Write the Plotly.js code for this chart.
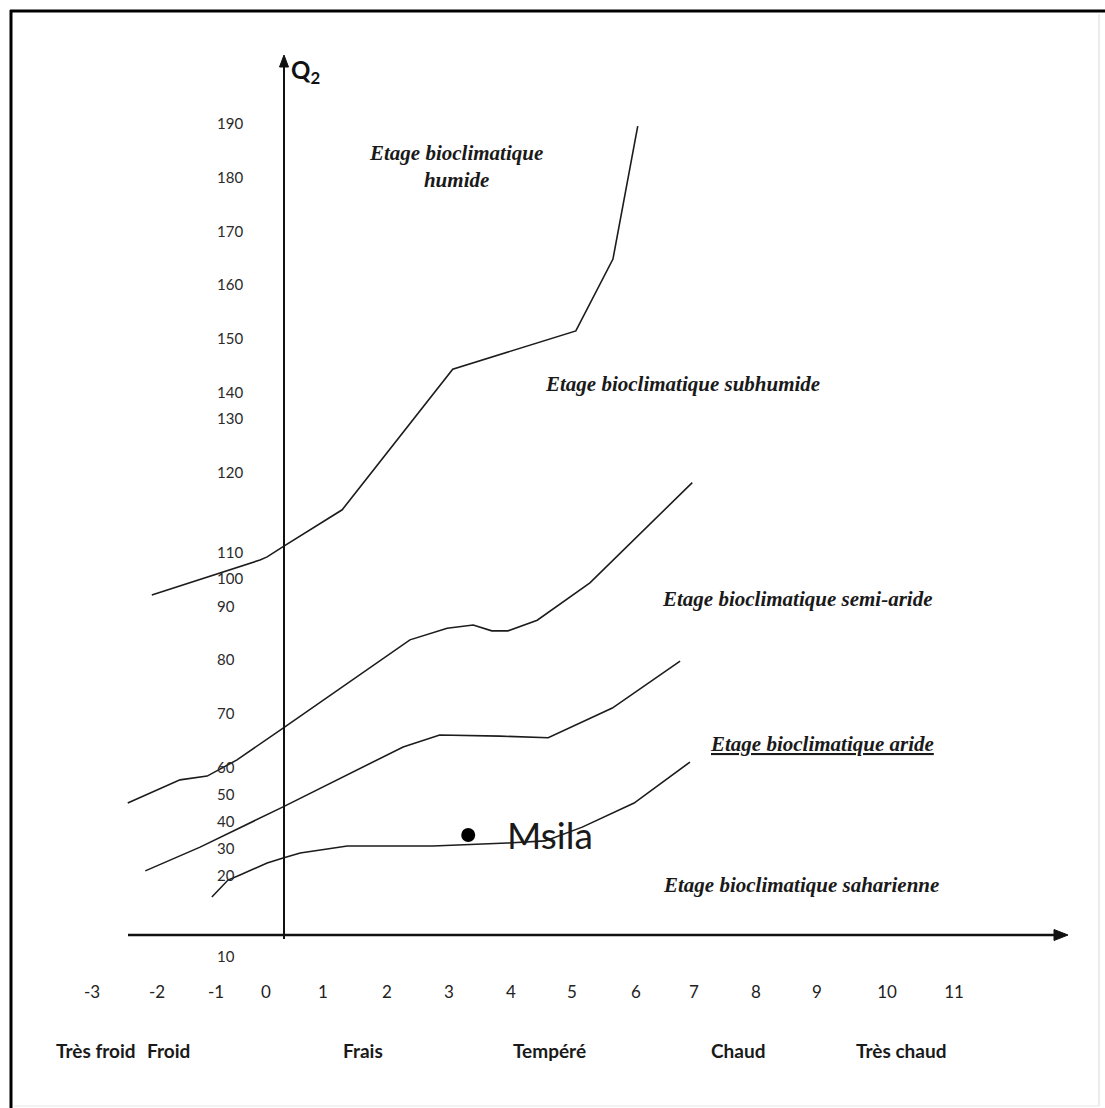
<!DOCTYPE html>
<html>
<head>
<meta charset="utf-8">
<script src="https://cdn.plot.ly/plotly-3.0.1.min.js"></script>
<style>
html,body{margin:0;padding:0;background:#fff;}
#chart{width:1105px;height:1108px;}
</style>
</head>
<body>
<div id="chart"></div>
<script>
// ---------- DATA ----------
// x: m (°C, mean minimum of the coldest month), y: Q2 (Emberger quotient)
const xTickValues = [-3, -2, -1, 0, 1, 2, 3, 4, 5, 6, 7, 8, 9, 10, 11];
const yTickValues = [190, 180, 170, 160, 150, 140, 130, 120, 110, 100, 90, 80, 70, 60, 50, 40, 30, 20, 10];
const thermalClasses = ['Très froid', 'Froid', 'Frais', 'Tempéré', 'Chaud', 'Très chaud'];
const stageLabels = [
  'Etage bioclimatique<br>humide',
  'Etage bioclimatique subhumide',
  'Etage bioclimatique semi-aride',
  'Etage bioclimatique aride',
  'Etage bioclimatique saharienne'
];

// Boundary humide / subhumide
const humideM  = [-2.08, -0.12, 0.02, 0.30, 1.30, 3.06, 5.06, 5.64, 6.03];
const humideQ2 = [94.3, 107.3, 108.5, 110.8, 115.4, 144.4, 151.5, 164.9, 189.6];
// Boundary subhumide / semi-aride
const subhumideM  = [-2.45, -1.61, -1.15, -0.58, 0.30, 2.37, 2.97, 3.39, 3.69, 3.95, 4.43, 5.28, 6.97];
const subhumideQ2 = [47.0, 55.6, 57.0, 61.5, 67.4, 83.8, 86.0, 86.6, 85.5, 85.5, 87.5, 98.6, 118.8];
// Boundary semi-aride / aride
const semiArideM  = [-2.18, -1.27, 0.30, 2.26, 2.85, 3.82, 4.61, 5.63, 6.76];
const semiArideQ2 = [21.9, 30.7, 45.6, 63.9, 66.1, 65.9, 65.6, 71.1, 79.8];
// Boundary aride / saharien
const arideM  = [-1.07, -0.76, -0.52, 0.02, 0.30, 0.60, 1.38, 2.74, 3.94, 4.56, 5.16, 5.97, 6.93];
const arideQ2 = [17.4, 19.5, 20.4, 24.8, 26.7, 28.5, 31.1, 31.1, 32.2, 33.0, 38.1, 47.0, 61.1];
// Station
const stationName = ['Msila'];
const stationM  = [3.31];
const stationQ2 = [35.2];

// ---------- SCALES (the printed graduations are unevenly spaced) ----------
const W = 1105, H = 1108;
const xTickPos = [92, 157, 216, 266, 323, 387, 449, 511, 572, 636, 694, 756, 817, 887, 954];
const yTickPos = [124, 178, 232, 285, 339, 393, 419, 473, 553, 579, 607, 660, 714, 768, 795, 822, 849, 876, 957];

function piecewise(v, vals, pos) {
  const pts = vals.map((d, i) => [d, pos[i]]).sort((a, b) => a[0] - b[0]);
  let i = 0;
  if (v >= pts[pts.length - 1][0]) i = pts.length - 2;
  else if (v > pts[0][0]) { while (!(v >= pts[i][0] && v <= pts[i + 1][0])) i++; }
  const [a0, p0] = pts[i], [a1, p1] = pts[i + 1];
  return p0 + (v - a0) * (p1 - p0) / (a1 - a0);
}
const toX = m => piecewise(m, xTickValues, xTickPos);
const toY = q => piecewise(q, yTickValues, yTickPos);

// ---------- TRACES ----------
const lineStyle = {color: '#1c1c1c', width: 1.6};
function boundary(ms, qs, name) {
  return {type: 'scatter', mode: 'lines', name: name,
          x: ms.map(toX), y: qs.map(toY), line: lineStyle, hoverinfo: 'skip'};
}
const traces = [
  boundary(humideM, humideQ2, 'humide/subhumide'),
  boundary(subhumideM, subhumideQ2, 'subhumide/semi-aride'),
  boundary(semiArideM, semiArideQ2, 'semi-aride/aride'),
  boundary(arideM, arideQ2, 'aride/saharien'),
  {type: 'scatter', mode: 'markers', name: stationName[0],
   x: stationM.map(toX), y: stationQ2.map(toY),
   marker: {color: '#000', size: 14}, hoverinfo: 'skip'}
];

// ---------- ANNOTATIONS ----------
const serif = {family: 'Liberation Serif, Times New Roman, serif', size: 21, color: '#1a1a1a'};
const sans = 'Lato, Calibri, Carlito, sans-serif';
const annotations = [];

// Q2 label
annotations.push({x: 289, y: 71, xref: 'x', yref: 'y', xanchor: 'left', yanchor: 'middle', showarrow: false,
  text: '<b>Q<sub>2</sub></b>', font: {family: sans, size: 24, color: '#111'}});

// stage labels
const stagePos = [[456, 166], [682, 384], [797, 599], [822, 744], [801, 885]];
stageLabels.forEach((t, i) => {
  const txt = i === 3 ? '<u><b><i>' + t + '</i></b></u>' : '<b><i>' + t + '</i></b>';
  annotations.push({x: stagePos[i][0], y: stagePos[i][1], xref: 'x', yref: 'y', showarrow: false,
    xanchor: 'center', yanchor: 'middle', align: 'center', text: txt, font: serif});
});

// station label
annotations.push({x: toX(stationM[0]) + 37, y: toY(stationQ2[0]), xref: 'x', yref: 'y',
  xanchor: 'left', yanchor: 'middle', showarrow: false, text: stationName[0],
  font: {family: sans, size: 37, color: '#1a1a1a'}});

// thermal classes
const classPos = [96, 168, 363, 549, 738, 901];
thermalClasses.forEach((t, i) => {
  annotations.push({x: classPos[i], y: 1050, xref: 'x', yref: 'y', showarrow: false,
    xanchor: 'center', yanchor: 'middle', text: '<b>' + t + '</b>',
    font: {family: sans, size: 19, color: '#1a1a1a'}});
});

// ---------- FRAME AND AXIS ARROWS ----------
const shapes = [
  {type: 'line', xref: 'x', yref: 'y', x0: 10, x1: 1105, y0: 11, y1: 11, line: {color: '#000', width: 3}},
  {type: 'line', xref: 'x', yref: 'y', x0: 11, x1: 11, y0: 10, y1: 1108, line: {color: '#000', width: 3}},
  {type: 'line', xref: 'x', yref: 'y', x0: 1099, x1: 1099, y0: 14, y1: 1106, line: {color: '#d8d8d8', width: 1}},
  {type: 'line', xref: 'x', yref: 'y', x0: 14, x1: 1099, y0: 1106, y1: 1106, line: {color: '#e6e6e6', width: 1}},
  // horizontal axis
  {type: 'line', xref: 'x', yref: 'y', x0: 128, x1: 1056, y0: 935, y1: 935, line: {color: '#111', width: 2.4}},
  {type: 'path', xref: 'x', yref: 'y', path: 'M 1054 929.5 L 1068 935 L 1054 940.5 Z',
   fillcolor: '#111', line: {color: '#111', width: 1}},
  // vertical axis
  {type: 'line', xref: 'x', yref: 'y', x0: 284, x1: 284, y0: 939, y1: 64, line: {color: '#111', width: 2}},
  {type: 'path', xref: 'x', yref: 'y', path: 'M 279.5 67 L 284 55 L 288.5 67 Z',
   fillcolor: '#111', line: {color: '#111', width: 1}}
];

const layout = {
  width: W, height: H,
  margin: {l: 0, r: 0, t: 0, b: 0, pad: 0},
  paper_bgcolor: '#fff', plot_bgcolor: 'rgba(0,0,0,0)',
  showlegend: false,
  xaxis: {range: [0, W], showgrid: false, zeroline: false, showline: false, ticks: '',
    tickmode: 'array', tickvals: xTickValues.map(toX), ticktext: xTickValues.map(String),
    anchor: 'free', position: (H - 980) / H, tickfont: {family: sans, size: 17, color: '#222'},
    fixedrange: true, automargin: false},
  yaxis: {range: [H, 0], showgrid: false, zeroline: false, showline: false, ticks: '',
    tickmode: 'array', tickvals: yTickValues.map(toY), ticktext: yTickValues.map(String),
    side: 'right', anchor: 'free', position: 216 / W,
    tickfont: {family: sans, size: 15, color: '#2a2a2a'}, fixedrange: true, automargin: false},
  annotations: annotations,
  shapes: shapes
};

Plotly.newPlot('chart', traces, layout, {staticPlot: true, displayModeBar: false}).then(function (gd) {
  // drop empty placeholder text nodes (e.g. unused axis titles)
  gd.querySelectorAll('text').forEach(function (t) {
    if (!t.textContent || !t.textContent.trim()) t.parentNode.removeChild(t);
  });
});
</script>
</body>
</html>
